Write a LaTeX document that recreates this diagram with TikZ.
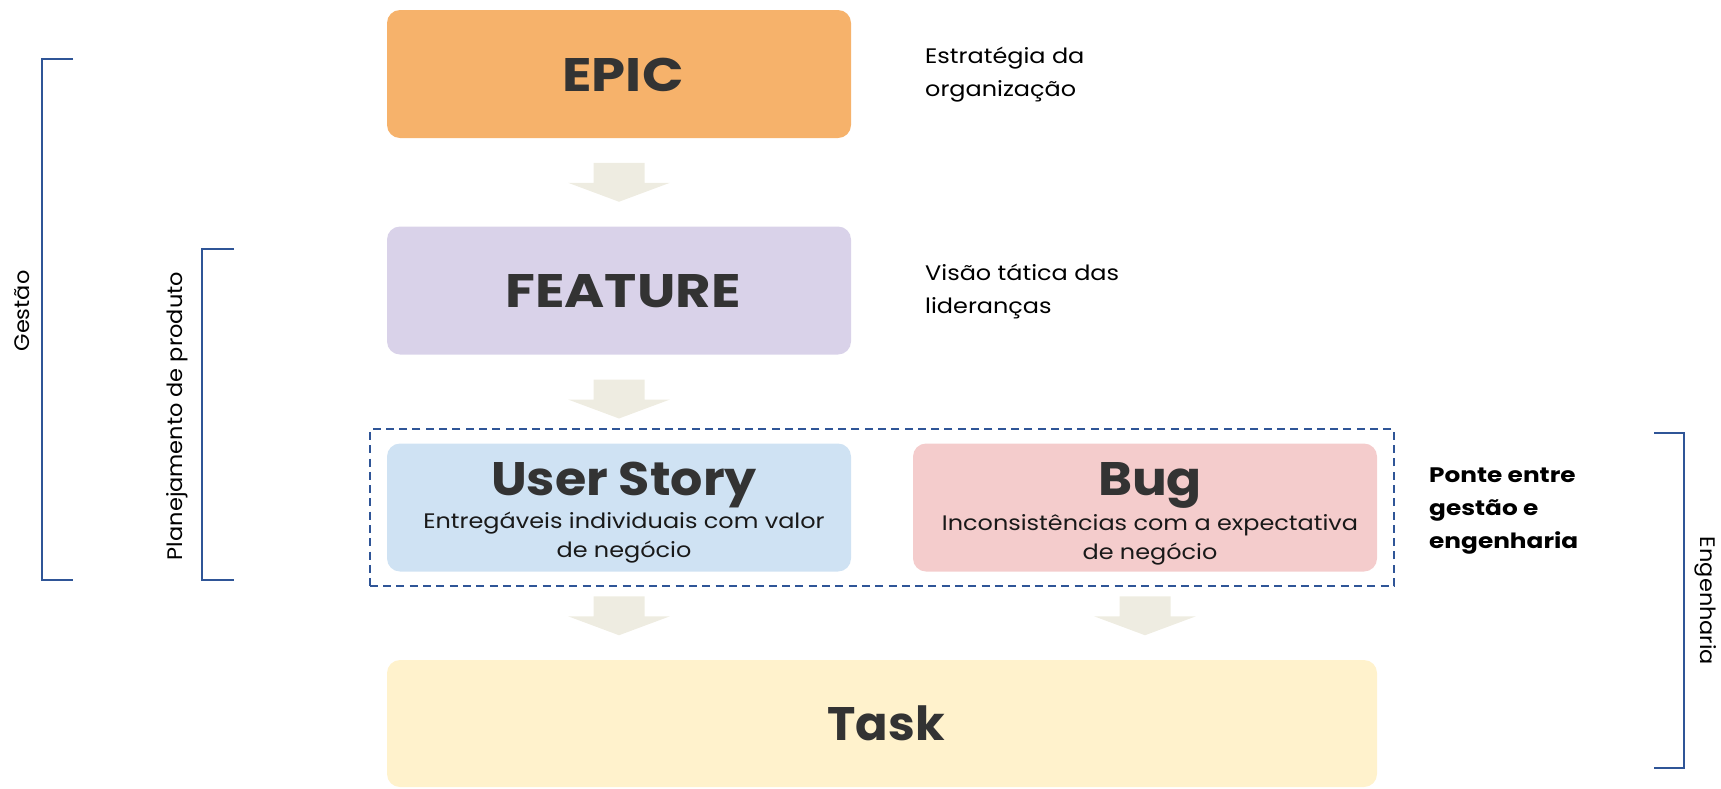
\documentclass[tikz,border=0pt]{standalone}
\usepackage{fontspec}
\setmainfont{Poppins}
\newfontfamily\notefont{Poppins}[FakeStretch=1.14]
\newfontfamily\boldnotefont{Poppins}[FakeStretch=1.18]
\newfontfamily\sidefont{Poppins}[FakeStretch=1.07]
\usetikzlibrary{calc,fit}

\definecolor{epicfill}{HTML}{F6B26B}
\definecolor{featurefill}{HTML}{D9D2E9}
\definecolor{storyfill}{HTML}{CFE2F3}
\definecolor{bugfill}{HTML}{F4CCCC}
\definecolor{taskfill}{HTML}{FFF2CC}
\definecolor{arrowfill}{HTML}{EEECE1}
\definecolor{lineblue}{HTML}{2F5597}
\definecolor{titlegray}{HTML}{333333}

% block arrow centred between two anchors
\newcommand\flowarrow[2]{%
  \fill[arrowfill] ($(#1)!0.5!(#2)$)
    +(-25.5,-19.5) -- +(25.5,-19.5) -- +(25.5,0.5) -- +(51,0.5)
    -- +(0,19.5) -- +(-51,0.5) -- +(-25.5,0.5) -- cycle;}
% widened heading text, nudged a little to the right
\newcommand\wide[2]{\hspace*{8pt}\scalebox{#1}[1]{#2}}

\begin{document}
\begin{tikzpicture}[x=1pt,y=-1pt,
  box/.style={rounded corners=13pt, minimum width=464pt, minimum height=128pt,
    inner sep=0pt, draw=none},
  bigtitle/.style={font=\fontsize{47}{47}\selectfont\bfseries, text=titlegray,
    text height=34pt, text depth=0pt},
  heading/.style={font=\fontsize{47}{47}\selectfont\bfseries, text=titlegray,
    inner sep=0pt, anchor=base},
  subnote/.style={font=\notefont\fontsize{21}{29}\selectfont, text=black!90,
    inner sep=0pt, anchor=base},
  note/.style={font=\notefont\fontsize{21}{33}\selectfont, text=black,
    inner sep=0pt, anchor=base west},
  sidelabel/.style={font=\sidefont\fontsize{21}{21}\selectfont, text=black, inner sep=0pt},
  bracket/.style={draw=lineblue, line width=2pt},
  groupbox/.style={draw=lineblue, line width=2pt, dash pattern=on 8pt off 5.3pt}]

\useasboundingbox (0,0) rectangle (1721,788);

% hierarchy boxes
\node[box, fill=epicfill, bigtitle] (epic) at (619,74) {\wide{1.16}{EPIC}};
\node[box, fill=featurefill, bigtitle] (feature) at (619,290.5) {\wide{1.16}{FEATURE}};
\node[box, fill=storyfill] (story) at (619,507.5) {};
\node[box, fill=bugfill] (bug) at (1145,507.5) {};
\node[box, fill=taskfill, bigtitle, minimum width=990pt, minimum height=127pt]
  (task) at (882,723.5) {\wide{1.02}{Task}};

\node[heading] (storyT) at ($(story.north)+(5,52)$) {\scalebox{1.08}[1]{User Story}};
\node[subnote] (storyN) at ($(story.north)+(5,85)$)
  {\begin{tabular}[t]{@{}c@{}}Entregáveis individuais com valor\\de negócio\end{tabular}};
\node[heading] (bugT) at ($(bug.north)+(5,52)$) {\scalebox{1.1}[1]{Bug}};
\node[subnote] (bugN) at ($(bug.north)+(5,87)$)
  {\begin{tabular}[t]{@{}c@{}}Inconsistências com a expectativa\\de negócio\end{tabular}};

% group frame around story and bug
\node[groupbox, fit=(story)(bug), inner xsep=17pt, inner ysep=14pt] (bridge) {};

% flow arrows
\flowarrow{epic.south}{feature.north}
\flowarrow{feature.south}{story.north}
\flowarrow{story.south}{story.south |- task.north}
\flowarrow{bug.south}{bug.south |- task.north}

% descriptions on the right
\node[note] (epicN) at (925,63)
  {\begin{tabular}[t]{@{}l@{}}Estratégia da\\organização\end{tabular}};
\node[note] (featureN) at (925,280)
  {\begin{tabular}[t]{@{}l@{}}Visão tática das\\lideranças\end{tabular}};
\node[note, font=\boldnotefont\fontsize{21}{33}\selectfont\bfseries] (bridgeN) at (1429,482)
  {\begin{tabular}[t]{@{}l@{}}Ponte entre\\gestão e\\engenharia\end{tabular}};

% brackets
\coordinate (g1) at (73,59);  \coordinate (g2) at (73,580);
\draw[bracket] (g1) -- (42,59) -- (42,580) -- (g2);
\coordinate (p1) at (234,249); \coordinate (p2) at (234,580);
\draw[bracket] (p1) -- (202,249) -- (202,580) -- (p2);
\coordinate (e1) at (1654,433); \coordinate (e2) at (1654,768);
\draw[bracket] (e1) -- (1684,433) -- (1684,768) -- (e2);

\node[sidelabel, rotate=90] (gestao) at (22,311) {Gestão};
\node[sidelabel, rotate=90] (planejamento) at (177,416) {Planejamento de produto};
\node[sidelabel, rotate=-90] (engenharia) at (1706,601) {Engenharia};

\end{tikzpicture}
\end{document}
